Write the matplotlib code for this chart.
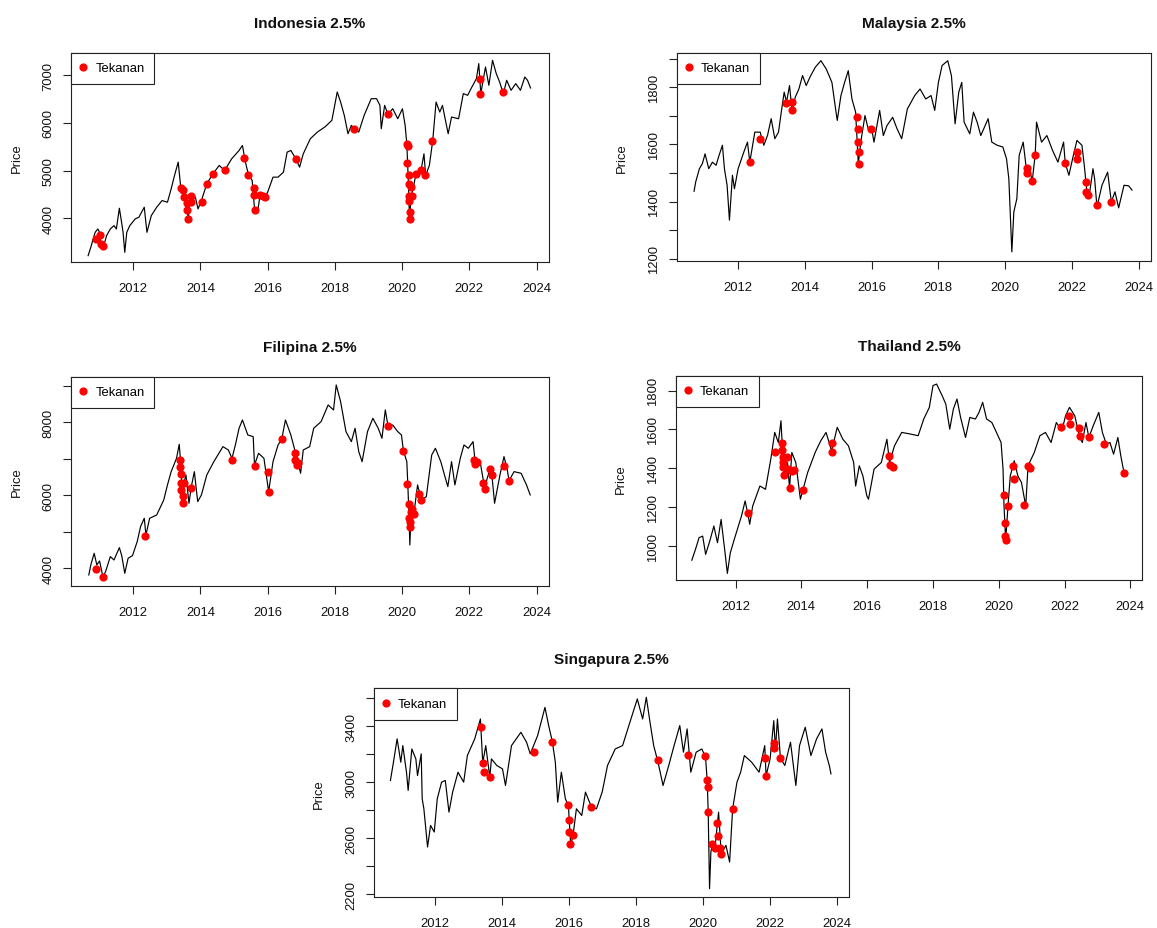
import matplotlib
matplotlib.use("Agg")
import matplotlib.pyplot as plt

plt.rcParams['font.family'] = ['Liberation Sans', 'DejaVu Sans']

# ---------------- data (decimal year, index level) ----------------
idn_t = [2010.66, 2010.74, 2010.81, 2010.87, 2010.95, 2011.00, 2011.05, 2011.11, 2011.21, 2011.32,
         2011.43, 2011.50, 2011.59, 2011.64, 2011.70, 2011.75, 2011.81, 2011.90, 2012.06, 2012.17,
         2012.33, 2012.41, 2012.54, 2012.70, 2012.86, 2013.02, 2013.13, 2013.23, 2013.34, 2013.37,
         2013.41, 2013.47, 2013.53, 2013.59, 2013.64, 2013.69, 2013.76, 2013.85, 2013.93, 2014.03,
         2014.19, 2014.37, 2014.56, 2014.72, 2014.93, 2015.15, 2015.25, 2015.34, 2015.43, 2015.54,
         2015.61, 2015.70, 2015.78, 2015.91, 2016.00, 2016.16, 2016.31, 2016.47, 2016.58, 2016.69,
         2016.84, 2016.95, 2017.06, 2017.27, 2017.48, 2017.70, 2017.91, 2018.07, 2018.17, 2018.28,
         2018.39, 2018.49, 2018.58, 2018.71, 2018.87, 2019.08, 2019.24, 2019.34, 2019.38, 2019.48,
         2019.58, 2019.72, 2019.87, 2020.01, 2020.09, 2020.14, 2020.19, 2020.22, 2020.27, 2020.33,
         2020.41, 2020.57, 2020.65, 2020.70, 2020.81, 2020.91, 2021.01, 2021.12, 2021.20, 2021.31,
         2021.37, 2021.47, 2021.68, 2021.82, 2021.95, 2022.05, 2022.21, 2022.28, 2022.34, 2022.48,
         2022.58, 2022.69, 2022.80, 2022.90, 2023.01, 2023.11, 2023.24, 2023.38, 2023.52, 2023.65,
         2023.73, 2023.82]
idn_p = [3216, 3391, 3566, 3706, 3776, 3706, 3426, 3391, 3636, 3776,
         3846, 3776, 4211, 3987, 3706, 3286, 3706, 3846, 3987, 4022,
         4232, 3706, 4057, 4232, 4372, 4337, 4617, 4898, 5178, 4968,
         4687, 4582, 4407, 4267, 3987, 4407, 4477, 4442, 4197, 4372,
         4722, 4933, 5108, 5003, 5248, 5423, 5528, 5178, 4912, 4793,
         4197, 4127, 4512, 4442, 4547, 4863, 4863, 4968, 5388, 5423,
         5248, 5073, 5353, 5669, 5809, 5914, 6054, 6650, 6439, 6159,
         5774, 5949, 5879, 5809, 6159, 6509, 6509, 6369, 5879, 6369,
         6180, 6299, 6089, 6299, 5949, 5563, 4687, 3987, 4477, 4617,
         4933, 5038, 5353, 4898, 5108, 5626, 6439, 6229, 6369, 5984,
         5774, 6124, 6089, 6615, 6580, 6720, 6930, 7245, 6615, 7175,
         6790, 7315, 7035, 6860, 6615, 6895, 6685, 6825, 6685, 6965,
         6895, 6734]
idn_red_t = [2010.90, 2011.00, 2011.03, 2011.09, 2013.41, 2013.48, 2013.50, 2013.60, 2013.60, 2013.64,
             2013.71, 2013.73, 2014.05, 2014.20, 2014.37, 2014.72, 2015.29, 2015.43, 2015.60, 2015.60,
             2015.61, 2015.78, 2015.87, 2015.91, 2016.84, 2018.58, 2019.58, 2020.14, 2020.17, 2020.16,
             2020.19, 2020.19, 2020.21, 2020.21, 2020.22, 2020.22, 2020.26, 2020.29, 2020.42, 2020.57,
             2020.67, 2020.90, 2022.33, 2022.33, 2022.99]
idn_red_p = [3566, 3650, 3461, 3412, 4638, 4603, 4449, 4323, 4183, 3987,
             4477, 4337, 4337, 4709, 4919, 5017, 5262, 4912, 4631, 4491,
             4183, 4491, 4477, 4456, 5241, 5879, 6180, 5549, 5507, 5157,
             4912, 4709, 4477, 4372, 4127, 3987, 4652, 4477, 4933, 5017,
             4912, 5626, 6923, 6615, 6650]

mys_t = [2010.68, 2010.73, 2010.84, 2010.93, 2011.01, 2011.12, 2011.23, 2011.34, 2011.43, 2011.53,
         2011.59, 2011.67, 2011.74, 2011.83, 2011.89, 2012.00, 2012.17, 2012.28, 2012.35, 2012.50,
         2012.66, 2012.77, 2012.88, 2012.99, 2013.10, 2013.21, 2013.30, 2013.38, 2013.45, 2013.54,
         2013.62, 2013.71, 2013.82, 2013.93, 2014.04, 2014.15, 2014.31, 2014.48, 2014.64, 2014.81,
         2014.92, 2014.97, 2015.08, 2015.19, 2015.30, 2015.41, 2015.52, 2015.60, 2015.69, 2015.80,
         2015.91, 2016.00, 2016.07, 2016.24, 2016.35, 2016.46, 2016.63, 2016.76, 2016.90, 2017.07,
         2017.29, 2017.45, 2017.62, 2017.78, 2017.89, 2018.00, 2018.11, 2018.28, 2018.39, 2018.50,
         2018.61, 2018.70, 2018.77, 2018.94, 2019.05, 2019.16, 2019.27, 2019.49, 2019.60, 2019.76,
         2019.93, 2020.04, 2020.11, 2020.20, 2020.26, 2020.35, 2020.42, 2020.54, 2020.64, 2020.72,
         2020.81, 2020.90, 2020.94, 2021.09, 2021.25, 2021.42, 2021.58, 2021.75, 2021.80, 2021.91,
         2022.02, 2022.15, 2022.30, 2022.37, 2022.44, 2022.52, 2022.63, 2022.68, 2022.75, 2022.90,
         2023.07, 2023.18, 2023.29, 2023.40, 2023.56, 2023.70, 2023.80]
mys_p = [1436, 1469, 1515, 1533, 1567, 1515, 1538, 1527, 1562, 1597,
         1515, 1457, 1335, 1492, 1445, 1515, 1573, 1608, 1538, 1643,
         1643, 1597, 1631, 1690, 1620, 1643, 1719, 1783, 1748, 1806,
         1713, 1765, 1794, 1841, 1806, 1835, 1870, 1893, 1864, 1817,
         1724, 1684, 1771, 1817, 1858, 1759, 1713, 1533, 1620, 1701,
         1649, 1655, 1608, 1719, 1631, 1666, 1695, 1655, 1620, 1724,
         1771, 1794, 1759, 1771, 1719, 1817, 1876, 1893, 1841, 1672,
         1783, 1817, 1678, 1637, 1713, 1678, 1631, 1690, 1608, 1597,
         1591, 1550, 1480, 1224, 1364, 1410, 1562, 1608, 1509, 1521,
         1471, 1564, 1678, 1608, 1631, 1579, 1538, 1608, 1534, 1492,
         1550, 1614, 1597, 1527, 1445, 1422, 1515, 1480, 1381, 1457,
         1503, 1399, 1434, 1378, 1457, 1455, 1440]
mys_red_t = [2012.35, 2012.66, 2013.43, 2013.60, 2013.62, 2015.57, 2015.60, 2015.60, 2015.61, 2015.61,
             2015.99, 2020.64, 2020.64, 2020.80, 2020.89, 2021.79, 2022.16, 2022.16, 2022.42, 2022.43,
             2022.48, 2022.75, 2023.18]
mys_red_p = [1538, 1620, 1744, 1748, 1721, 1695, 1655, 1610, 1573, 1533,
             1655, 1517, 1499, 1471, 1564, 1534, 1573, 1548, 1469, 1434,
             1424, 1387, 1397]

phl_t = [2010.68, 2010.74, 2010.84, 2010.92, 2011.00, 2011.10, 2011.18, 2011.32, 2011.43, 2011.59,
         2011.66, 2011.75, 2011.85, 2011.98, 2012.12, 2012.22, 2012.33, 2012.38, 2012.49, 2012.70,
         2012.91, 2013.02, 2013.13, 2013.21, 2013.29, 2013.37, 2013.42, 2013.47, 2013.52, 2013.57,
         2013.66, 2013.73, 2013.82, 2013.92, 2014.03, 2014.19, 2014.40, 2014.67, 2014.83, 2014.94,
         2015.04, 2015.15, 2015.25, 2015.41, 2015.57, 2015.61, 2015.73, 2015.89, 2016.03, 2016.16,
         2016.31, 2016.42, 2016.53, 2016.69, 2016.82, 2016.91, 2016.98, 2017.06, 2017.25, 2017.37,
         2017.59, 2017.80, 2017.96, 2018.04, 2018.17, 2018.33, 2018.49, 2018.60, 2018.71, 2018.81,
         2018.97, 2019.13, 2019.29, 2019.40, 2019.50, 2019.58, 2019.72, 2019.87, 2019.98, 2020.04,
         2020.14, 2020.17, 2020.20, 2020.23, 2020.27, 2020.35, 2020.46, 2020.57, 2020.72, 2020.88,
         2020.99, 2021.15, 2021.26, 2021.36, 2021.47, 2021.57, 2021.73, 2021.84, 2021.97, 2022.11,
         2022.18, 2022.32, 2022.46, 2022.53, 2022.62, 2022.67, 2022.75, 2022.91, 2023.03, 2023.12,
         2023.18, 2023.33, 2023.54, 2023.70, 2023.81]
phl_p = [3817, 4091, 4411, 4091, 4201, 3772, 3909, 4320, 4228, 4566,
         4347, 3863, 4274, 4347, 4731, 5142, 5370, 4913, 5370, 5461,
         5872, 6283, 6648, 6831, 7014, 7397, 6831, 5781, 6374, 6557,
         5781, 6237, 6648, 5826, 6009, 6557, 6922, 7333, 7242, 7014,
         7379, 7836, 8064, 7653, 7607, 6831, 7151, 7014, 6100, 6922,
         7379, 7543, 8064, 7653, 7196, 6877, 6603, 7242, 7333, 7836,
         8018, 8475, 8338, 9023, 8566, 7744, 7470, 7836, 7196, 6922,
         7744, 8110, 7836, 7562, 8338, 7900, 7927, 7744, 7653, 7215,
         6922, 6283, 5553, 4639, 5598, 5498, 6283, 5872, 5963, 7105,
         7288, 6922, 6557, 6237, 6922, 6283, 7014, 7379, 7288, 7470,
         6849, 6922, 6174, 6466, 6721, 6557, 5781, 6557, 7060, 6740,
         6402, 6648, 6603, 6283, 6009]
phl_red_t = [2010.89, 2011.10, 2012.35, 2013.39, 2013.40, 2013.41, 2013.43, 2013.42, 2013.47, 2013.47,
             2013.52, 2013.73, 2014.94, 2015.61, 2016.02, 2016.03, 2016.42, 2016.82, 2016.82, 2016.88,
             2016.91, 2019.58, 2020.04, 2020.16, 2020.19, 2020.20, 2020.23, 2020.23, 2020.27, 2020.30,
             2020.35, 2020.51, 2020.57, 2022.13, 2022.18, 2022.24, 2022.42, 2022.46, 2022.62, 2022.66,
             2023.03, 2023.18]
phl_red_p = [3982, 3753, 4877, 6959, 6776, 6575, 6338, 6146, 5982, 5799,
             6338, 6201, 6977, 6804, 6639, 6100, 7543, 7151, 6977, 6831,
             6886, 7900, 7215, 6320, 5763, 5370, 5279, 5142, 5553, 5626,
             5498, 6037, 5872, 6977, 6849, 6922, 6347, 6174, 6721, 6557,
             6804, 6402]

tha_t = [2010.67, 2010.78, 2010.89, 2011.00, 2011.09, 2011.23, 2011.34, 2011.45, 2011.56, 2011.68,
         2011.75, 2011.84, 2011.96, 2012.18, 2012.29, 2012.37, 2012.43, 2012.52, 2012.74, 2012.91,
         2013.07, 2013.19, 2013.30, 2013.38, 2013.43, 2013.48, 2013.58, 2013.64, 2013.71, 2013.83,
         2013.97, 2014.05, 2014.19, 2014.42, 2014.59, 2014.75, 2014.92, 2015.09, 2015.26, 2015.43,
         2015.59, 2015.65, 2015.76, 2015.87, 2015.99, 2016.04, 2016.21, 2016.43, 2016.60, 2016.68,
         2016.83, 2017.05, 2017.33, 2017.55, 2017.72, 2017.89, 2018.00, 2018.11, 2018.28, 2018.39,
         2018.51, 2018.62, 2018.73, 2018.84, 2018.99, 2019.12, 2019.29, 2019.40, 2019.51, 2019.63,
         2019.79, 2019.93, 2020.07, 2020.13, 2020.16, 2020.21, 2020.28, 2020.35, 2020.47, 2020.58,
         2020.69, 2020.82, 2020.89, 2021.08, 2021.25, 2021.42, 2021.59, 2021.75, 2021.92, 2022.03,
         2022.15, 2022.31, 2022.46, 2022.54, 2022.65, 2022.74, 2022.87, 2023.04, 2023.15, 2023.27,
         2023.38, 2023.49, 2023.62, 2023.71, 2023.81]
tha_p = [927, 982, 1043, 1051, 957, 1034, 1103, 1017, 1137, 965,
         859, 965, 1034, 1155, 1232, 1168, 1112, 1206, 1309, 1292,
         1447, 1585, 1533, 1645, 1482, 1361, 1430, 1297, 1482, 1430,
         1241, 1291, 1378, 1482, 1542, 1585, 1490, 1611, 1550, 1516,
         1430, 1309, 1413, 1361, 1258, 1241, 1396, 1430, 1550, 1430,
         1516, 1585, 1576, 1568, 1654, 1714, 1826, 1834, 1774, 1731,
         1602, 1705, 1757, 1662, 1559, 1662, 1654, 1688, 1740, 1654,
         1636, 1585, 1533, 1396, 1206, 1029, 1206, 1361, 1439, 1361,
         1327, 1206, 1413, 1482, 1568, 1585, 1533, 1636, 1593, 1671,
         1714, 1671, 1559, 1533, 1636, 1559, 1619, 1688, 1585, 1525,
         1533, 1473, 1559, 1464, 1375]
tha_red_t = [2012.37, 2013.20, 2013.42, 2013.42, 2013.43, 2013.44, 2013.44, 2013.47, 2013.56, 2013.59,
             2013.64, 2013.71, 2013.77, 2014.05, 2014.92, 2014.93, 2016.66, 2016.69, 2016.77, 2020.16,
             2020.19, 2020.20, 2020.22, 2020.28, 2020.43, 2020.47, 2020.78, 2020.89, 2020.96, 2021.89,
             2022.15, 2022.18, 2022.44, 2022.46, 2022.74, 2023.20, 2023.81]
tha_red_p = [1168, 1483, 1530, 1494, 1459, 1435, 1408, 1368, 1459, 1399,
             1297, 1387, 1390, 1291, 1530, 1483, 1461, 1418, 1409, 1261,
             1117, 1051, 1029, 1206, 1413, 1344, 1211, 1413, 1404, 1614,
             1668, 1630, 1606, 1564, 1559, 1525, 1375]

sgp_t = [2010.66, 2010.75, 2010.86, 2010.97, 2011.03, 2011.14, 2011.19, 2011.30, 2011.42, 2011.47,
         2011.58, 2011.61, 2011.66, 2011.77, 2011.86, 2011.97, 2012.06, 2012.19, 2012.30, 2012.41,
         2012.52, 2012.68, 2012.85, 2012.96, 2013.18, 2013.35, 2013.42, 2013.51, 2013.63, 2013.68,
         2013.84, 2014.01, 2014.10, 2014.28, 2014.56, 2014.73, 2014.84, 2015.06, 2015.28, 2015.39,
         2015.50, 2015.59, 2015.66, 2015.77, 2015.89, 2015.98, 2016.05, 2016.12, 2016.22, 2016.38,
         2016.49, 2016.67, 2016.82, 2016.99, 2017.15, 2017.38, 2017.60, 2017.82, 2018.04, 2018.20,
         2018.31, 2018.42, 2018.53, 2018.66, 2018.81, 2018.98, 2019.14, 2019.31, 2019.42, 2019.53,
         2019.64, 2019.80, 2019.97, 2020.08, 2020.13, 2020.16, 2020.20, 2020.24, 2020.28, 2020.36,
         2020.47, 2020.55, 2020.69, 2020.80, 2020.89, 2021.02, 2021.13, 2021.24, 2021.46, 2021.68,
         2021.85, 2021.89, 2022.01, 2022.12, 2022.17, 2022.23, 2022.32, 2022.45, 2022.62, 2022.78,
         2022.89, 2023.06, 2023.23, 2023.40, 2023.56, 2023.67, 2023.78, 2023.83]
sgp_p = [3013, 3143, 3310, 3143, 3262, 3072, 2942, 3238, 3167, 3048,
         3203, 2882, 2811, 2538, 2692, 2645, 2882, 3001, 3013, 2787,
         2930, 3072, 3001, 3191, 3310, 3452, 3139, 3262, 3037, 3167,
         3120, 3096, 2977, 3262, 3357, 3286, 3203, 3333, 3535, 3405,
         3291, 3143, 2858, 3072, 2882, 2835, 2550, 2623, 2811, 2763,
         2930, 2823, 2811, 2930, 3120, 3238, 3262, 3429, 3595, 3452,
         3607, 3429, 3262, 3143, 2977, 3120, 3262, 3405, 3215, 3381,
         3072, 3215, 3238, 3179, 3013, 2785, 2241, 2502, 2557, 2528,
         2787, 2490, 2550, 2431, 2811, 3001, 3072, 3191, 3143, 3072,
         3262, 3046, 3167, 3440, 3238, 3452, 3172, 3120, 3286, 2977,
         3262, 3393, 3191, 3310, 3381, 3215, 3120, 3060]
sgp_red_t = [2013.37, 2013.42, 2013.46, 2013.63, 2014.94, 2015.50, 2015.98, 2016.00, 2016.00, 2016.02,
             2016.12, 2016.67, 2018.66, 2019.56, 2020.05, 2020.13, 2020.14, 2020.16, 2020.28, 2020.36,
             2020.41, 2020.44, 2020.52, 2020.55, 2020.89, 2021.87, 2021.89, 2022.12, 2022.12, 2022.32]
sgp_red_p = [3398, 3139, 3077, 3037, 3215, 3291, 2837, 2733, 2645, 2561,
             2623, 2823, 3160, 3198, 3186, 3013, 2963, 2785, 2557, 2528,
             2709, 2619, 2533, 2490, 2811, 3170, 3046, 3284, 3243, 3172]

x_ticks = [2012, 2014, 2016, 2018, 2020, 2022, 2024]
legend_label = "Tekanan"

# ---------------- figure ----------------
W, H = 1157, 929
fig = plt.figure(figsize=(W / 100, H / 100), dpi=100)
fig.patch.set_facecolor('white')

TICK_FS = 9.4
TITLE_FS = 11.1


def panel(box, title, t, p, rt, rp, xlim, ylim, yticks, ylabels):
    x0, y0, x1, y1 = box
    ax = fig.add_axes([x0 / W, 1 - y1 / H, (x1 - x0) / W, (y1 - y0) / H])
    ax.plot(t, p, color='black', lw=0.85, zorder=2)
    ax.plot(rt, rp, linestyle='none', marker='o', color='red', mec='red',
            ms=4.9, label=legend_label, zorder=3)
    ax.set_xlim(*xlim)
    ax.set_ylim(*ylim)
    ax.set_xticks(x_ticks)
    ax.set_xticklabels([str(v) for v in x_ticks])
    ax.set_yticks(yticks)
    ax.set_yticklabels(ylabels)
    for s in ax.spines.values():
        s.set_linewidth(0.8)
        s.set_color('#222222')
    ax.tick_params(axis='both', direction='out', length=6, width=0.8,
                   color='#222222', labelsize=TICK_FS, labelcolor='#111111')
    ax.tick_params(axis='x', pad=8.5)
    ax.tick_params(axis='y', pad=6.0, labelrotation=90)
    for lab in ax.get_yticklabels():
        lab.set_va('center')
    h = y1 - y0
    w = x1 - x0
    ax.set_title(title, fontsize=TITLE_FS, fontweight='bold', y=1 + 29.5 / h,
                 pad=0, va='center', color='#111111')
    ax.set_ylabel('Price', fontsize=TICK_FS, va='center', color='#111111')
    ax.yaxis.set_label_coords(-54.7 / w, 0.5)
    leg = ax.legend(loc='upper left', borderaxespad=0, fancybox=False,
                    framealpha=1, edgecolor='#222222', fontsize=TICK_FS,
                    handlelength=0.34, handletextpad=0.78, borderpad=0.74,
                    numpoints=1)
    leg.get_frame().set_linewidth(0.8)
    return ax


panel((71.3, 53.7, 548.7, 263.0), "Indonesia 2.5%", idn_t, idn_p, idn_red_t, idn_red_p,
      (2010.16, 2024.36), (3083, 7474), [4000, 5000, 6000, 7000],
      ['4000', '5000', '6000', '7000'])

panel((676.7, 53.7, 1150.7, 261.7), "Malaysia 2.5%", mys_t, mys_p, mys_red_t, mys_red_p,
      (2010.16, 2024.36), (1193, 1921),
      [1200, 1300, 1400, 1500, 1600, 1700, 1800, 1900],
      ['1200', '', '1400', '', '1600', '', '1800', ''])

panel((71.3, 377.7, 548.7, 587.0), "Filipina 2.5%", phl_t, phl_p, phl_red_t, phl_red_p,
      (2010.16, 2024.36), (3515, 9249),
      [4000, 5000, 6000, 7000, 8000, 9000],
      ['4000', '', '6000', '', '8000', ''])

panel((675.7, 376.7, 1142.2, 581.0), "Thailand 2.5%", tha_t, tha_p, tha_red_t, tha_red_p,
      (2010.18, 2024.36), (825, 1877),
      [1000, 1200, 1400, 1600, 1800],
      ['1000', '1200', '1400', '1600', '1800'])

panel((373.7, 689.3, 848.7, 898.3), "Singapura 2.5%", sgp_t, sgp_p, sgp_red_t, sgp_red_p,
      (2010.16, 2024.36), (2179, 3671),
      [2200, 2400, 2600, 2800, 3000, 3200, 3400, 3600],
      ['2200', '', '2600', '', '3000', '', '3400', ''])

fig.savefig('out.png', dpi=100, facecolor='white')
